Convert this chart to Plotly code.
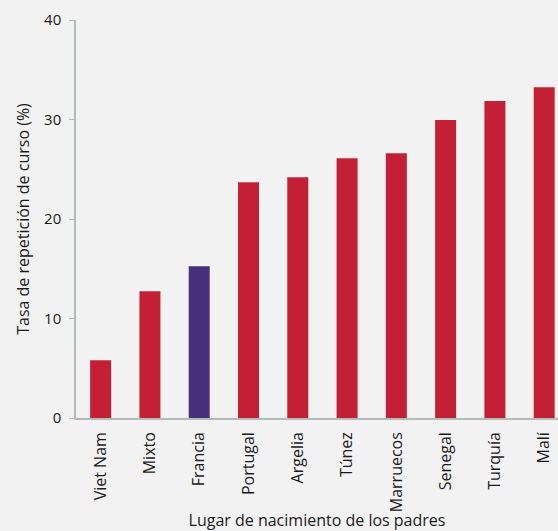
import plotly.graph_objects as go

categories = ["Viet Nam", "Mixto", "Francia", "Portugal", "Argelia", "Túnez",
              "Marruecos", "Senegal", "Turquía", "Malí"]
values = [5.8, 12.75, 15.25, 23.7, 24.2, 26.1, 26.6, 29.95, 31.85, 33.25]
highlight = "Francia"

RED = "#c32036"
PURPLE = "#47317a"
BG = "#f2f2f2"
colors = [PURPLE if c == highlight else RED for c in categories]

fig = go.Figure(go.Bar(x=categories, y=values, marker_color=colors,
                       marker_line_width=0, hoverinfo="x+y"))

AX = "#b3bbbb"
FONT = "Open Sans, Noto Sans, DejaVu Sans, sans-serif"

fig.update_layout(
    width=558, height=531,
    margin=dict(l=76, r=0, t=20, b=113),
    paper_bgcolor=BG, plot_bgcolor=BG,
    font=dict(family=FONT, size=16, color="#1a1a1a"),
    bargap=0.574,
    showlegend=False,
    xaxis=dict(
        type="category", range=[-0.5, 9.28],
        showline=True, linecolor=AX, linewidth=1.5,
        showgrid=False, ticks="", tickangle=-90,
        tickfont=dict(size=16), ticklabelstandoff=6,
        title=dict(text="Lugar de nacimiento de los padres", standoff=8,
                   font=dict(size=16)),
        automargin=False,
    ),
    yaxis=dict(
        range=[0, 40], tickvals=[0, 10, 20, 30, 40],
        showline=True, linecolor=AX, linewidth=1.5,
        showgrid=False, zeroline=False,
        ticks="outside", ticklen=5, tickcolor=AX, tickwidth=1,
        tickfont=dict(size=15), ticklabelstandoff=5,
        title=dict(text="Tasa de repetición de curso (%)", standoff=10,
                   font=dict(size=16)),
        automargin=False,
    ),
)

post = ("document.body.style.margin='0';"
        "document.body.style.background='%s';"
        "document.documentElement.style.background='%s';"
        "document.body.style.overflow='hidden';" % (BG, BG))
fig.write_html("out.html", post_script=post,
               config={"displayModeBar": False})
